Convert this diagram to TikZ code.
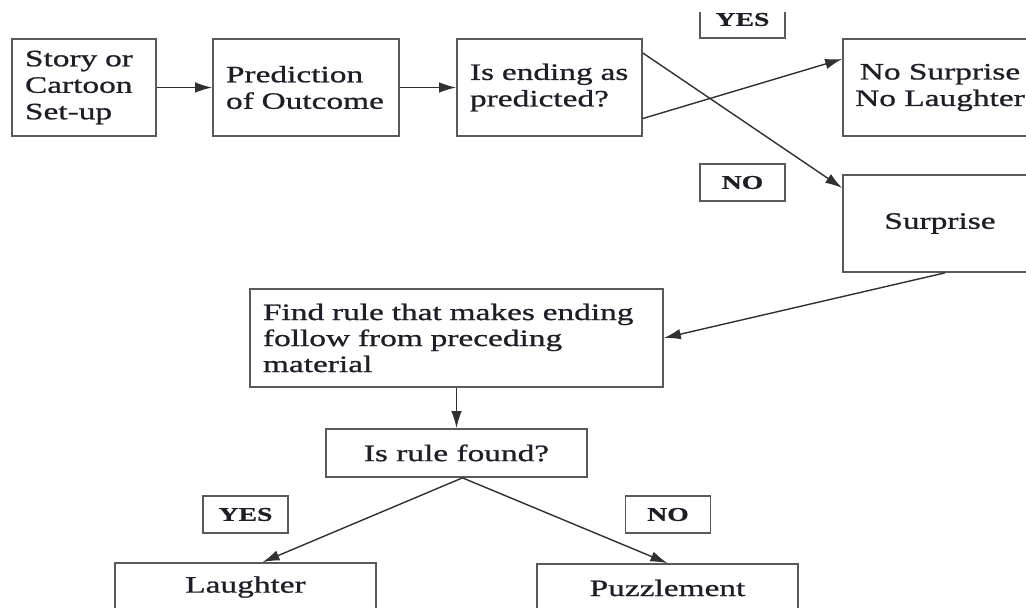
\documentclass[tikz,border=0pt]{standalone}
\usepackage{fontspec}
\setmainfont[FakeStretch=1.42,UprightFeatures={FakeBold=0.9},BoldFeatures={FakeBold=0.8}]{Liberation Serif}
\usetikzlibrary{arrows.meta}
\definecolor{boxc}{HTML}{5A5A5A}
\definecolor{linec}{HTML}{303030}
\definecolor{txt}{HTML}{1E1E28}
\tikzset{
  box/.style={draw=boxc, line width=1.7pt, inner sep=0pt, text=txt,
    font=\fontsize{23.5}{26.5}\selectfont},
  lbox/.style={box, align=left, inner xsep=13pt},
  cbox/.style={box, align=center},
  tag/.style={draw=boxc, line width=1.7pt, minimum width=85pt, minimum height=37pt,
    inner sep=0pt, text=txt, font=\bfseries\fontsize{19.5}{22}\selectfont},
  arr/.style={draw=linec, line width=1.4pt, -{Latex[length=17pt,width=10.5pt]}},
}
\begin{document}
\begin{tikzpicture}[x=1pt,y=-1pt]
\useasboundingbox (0,0) rectangle (1026,608);
\fill[white] (0,0) rectangle (1026,608);
\clip (0,12) rectangle (1026,608);
% top row
\node[lbox, text width=118pt, minimum height=97pt] (b1) at (84,87.5) {Story or\\Cartoon\\Set-up};
\node[lbox, text width=160pt, minimum height=97pt] (b2) at (306,87.5) {Prediction\\of Outcome};
\node[lbox, text width=159pt, minimum height=97pt] (b3) at (549.5,87.5) {Is ending as\\predicted?};
\node[box, minimum width=200pt, minimum height=97pt] (nosur) at (943,87.5) {};
\node[box, draw=none, align=center] (nosurtxt) at (940,87.5) {No Surprise\\No Laughter};
\node[box, minimum width=200pt, minimum height=97pt] (sur) at (943,223.5) {};
\node[box, draw=none] (surtxt) at (940,223.5) {Surprise};
\node[tag] (yes) at (742.5,19.5) {YES};
\node[tag] (no) at (742.5,182.5) {NO};
% middle
\node[lbox, text width=387pt, minimum height=98pt, font=\fontsize{23.5}{26}\selectfont] (find) at (456.5,338)
  {Find rule that makes ending\\follow from preceding\\material};
\node[cbox, minimum width=261pt, minimum height=48pt] (rule) at (456.5,453) {Is rule found?};
% bottom
\node[tag] (yesb) at (245.5,514.5) {YES};
\node[tag] (nob) at (668,514.5) {NO};
\node[cbox, minimum width=261pt, minimum height=48pt] (laugh) at (245.5,587) {Laughter};
\node[cbox, minimum width=261pt, minimum height=48pt] (puzz) at (667.5,588) {Puzzlement};
% connectors
\draw[arr] (b1) -- (b2);
\draw[arr] (b2) -- (b3);
\draw[arr] ([yshift=34.5pt]b3.east) -- ([yshift=35.5pt]sur.west);
\draw[arr] ([yshift=-31pt]b3.east) -- ([yshift=28.5pt]nosur.west);
\draw[arr] ([xshift=2pt]sur.south) -- (find.east);
\draw[arr] (find.south) -- (rule.north);
\draw[arr] ([xshift=6pt]rule.south) -- ([xshift=17pt]laugh.north);
\draw[arr] ([xshift=6pt]rule.south) -- (puzz.north);
\end{tikzpicture}
\end{document}
